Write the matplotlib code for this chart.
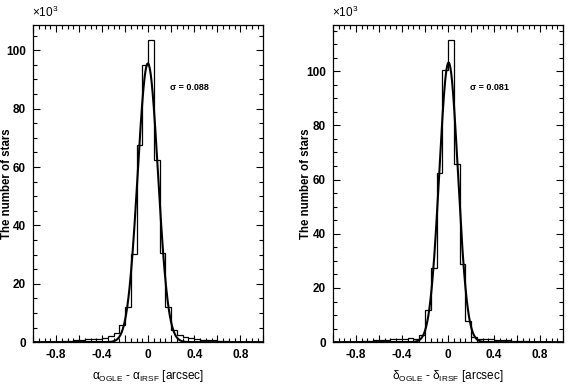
import numpy as np
import matplotlib
matplotlib.use('Agg')
import matplotlib.pyplot as plt
from matplotlib.ticker import MultipleLocator, FuncFormatter

plt.rcParams['font.family'] = ['Liberation Sans', 'DejaVu Sans']
plt.rcParams['mathtext.fontset'] = 'custom'
plt.rcParams['mathtext.rm'] = 'Liberation Sans'
plt.rcParams['mathtext.it'] = 'Liberation Sans:italic'
plt.rcParams['axes.unicode_minus'] = False

# bin edges in arcsec (width 0.05)
bin_edges = np.round(np.arange(-1.0, 1.0001, 0.05), 3)

# counts per bin in units of 10^3 stars
ra_counts = [0.05, 0.1, 0.1, 0.15, 0.2, 0.3, 0.5, 0.7, 0.8, 1.0,
             1.1, 1.2, 1.5, 2.0, 3.0, 6.0, 12.0, 30.3, 67.5, 94.8,
             103.5, 62.4, 30.4, 12.2, 4.1, 2.3, 1.6, 1.3, 1.1, 0.9,
             0.8, 0.6, 0.45, 0.3, 0.2, 0.15, 0.1, 0.1, 0.05, 0.05]
dec_counts = [0.05, 0.1, 0.1, 0.15, 0.2, 0.3, 0.5, 0.7, 0.8, 0.9,
              1.0, 1.1, 1.2, 1.4, 1.0, 2.5, 11.8, 27.2, 62.4, 100.4,
              111.5, 65.7, 29.0, 7.9, 2.0, 1.3, 1.1, 1.0, 0.9, 0.9,
              0.8, 0.6, 0.45, 0.3, 0.2, 0.15, 0.1, 0.1, 0.05, 0.05]

# gaussian fits: amplitude (10^3), centre, sigma
ra_fit = (95.5, -0.003, 0.088)
dec_fit = (103.2, 0.005, 0.081)

panels = [
    (ra_counts, ra_fit, r'α$_{\rm OGLE}$ - α$_{\rm IRSF}$ [arcsec]', 'σ = 0.088', 86.5,
     [0.058, 0.109, 0.404, 0.826], -0.085),
    (dec_counts, dec_fit, r'δ$_{\rm OGLE}$ - δ$_{\rm IRSF}$ [arcsec]', 'σ = 0.081', 93.0,
     [0.584, 0.109, 0.404, 0.826], -0.092),
]

fig = plt.figure(figsize=(5.7, 3.84), dpi=100)

for counts, fit, xlabel, sigma_txt, sigma_y, rect, ylab_x in panels:
    ax = fig.add_axes(rect)
    ax.stairs(counts, bin_edges, color='black', lw=0.9)
    amp, mu, sig = fit
    xs = np.linspace(-1, 1, 600)
    ax.plot(xs, amp * np.exp(-0.5 * ((xs - mu) / sig) ** 2), color='black', lw=1.5)

    ax.set_xlim(-1, 1)
    ax.set_ylim(0, max(counts) * 1.05)
    ax.xaxis.set_major_locator(MultipleLocator(0.2))
    ax.xaxis.set_minor_locator(MultipleLocator(0.05))
    ax.xaxis.set_major_formatter(FuncFormatter(
        lambda v, p: ('%g' % round(v, 2)) if abs(round(v / 0.4) * 0.4 - v) < 1e-6 else ''))
    ax.yaxis.set_major_locator(MultipleLocator(20))
    ax.yaxis.set_minor_locator(MultipleLocator(5))
    ax.tick_params(which='both', direction='in', top=True, right=True)
    ax.tick_params(which='major', length=5, width=0.8, labelsize=8.5, pad=5)
    ax.tick_params(which='minor', length=3, width=0.8)
    for lab in ax.get_xticklabels() + ax.get_yticklabels():
        lab.set_fontweight('bold')
    for s in ax.spines.values():
        s.set_linewidth(0.9)

    ax.set_ylabel('The number of stars', fontsize=8.3, fontweight='bold')
    ax.yaxis.set_label_coords(ylab_x, 0.5)
    ax.set_xlabel(xlabel, fontsize=8.5, labelpad=5)
    ax.text(0.19, sigma_y, sigma_txt, fontsize=6.5, fontweight='bold')
    ax.text(-0.005, 1.015, r'$\times$10$^{3}$', transform=ax.transAxes, fontsize=8.5, va='bottom')

fig.savefig('out.png', dpi=100)
